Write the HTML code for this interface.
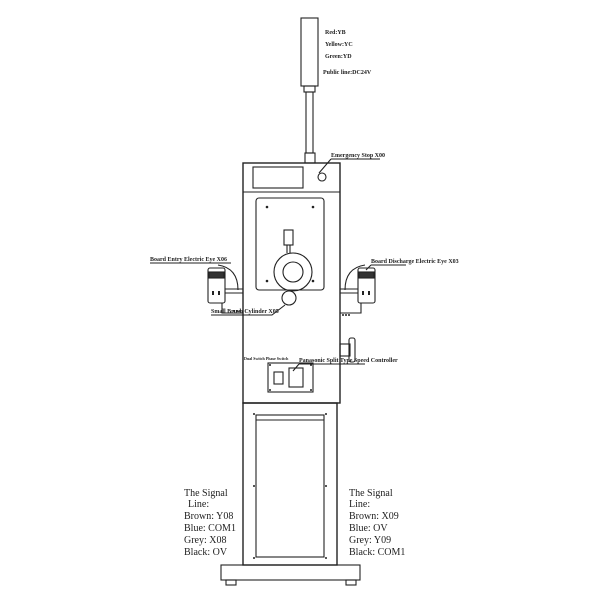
<!DOCTYPE html>
<html><head><style>
body{margin:0;background:#fff}
svg{display:block}
text{font-family:"Liberation Serif",serif;fill:#222}
</style></head><body>
<svg width="600" height="600" viewBox="0 0 600 600" fill="none" stroke="#222" stroke-width="1.1">
<rect x="301" y="18" width="17" height="68"/>
<rect x="304" y="86" width="11" height="6"/>
<rect x="306" y="92" width="7" height="61"/>
<rect x="305" y="153" width="10" height="10"/>
<g stroke="none" font-size="6" font-weight="bold">
<text x="325" y="34">Red:YB</text>
<text x="325" y="46">Yellow:YC</text>
<text x="325" y="58">Green:YD</text>
<text x="323" y="74">Public line:DC24V</text>
<text x="331" y="157">Emergency Stop X00</text>
<text x="150" y="261">Board Entry Electric Eye X06</text>
<text x="371" y="263">Board Discharge Electric Eye X03</text>
<text x="211" y="313">Small Brush Cylinder X05</text>
<text x="244" y="360" font-size="4">Dual Switch Phase Switch</text>
<text x="299" y="362">Panasonic Split Type Speed Controller</text>
</g>
<path d="M331 159H380 M331 159L319 173"/>
<path d="M150 263H231 M371 265H406 M371 265L366 270"/>
<path d="M211 315H272 L285 305"/>
<path d="M299 364H365 M299 364L293 371"/>
<rect x="243" y="163" width="97" height="240" stroke-width="1.4"/>
<rect x="253" y="167" width="50" height="21"/>
<line x1="243" y1="192" x2="340" y2="192"/>
<circle cx="322" cy="177" r="4"/>
<rect x="256" y="198" width="68" height="92" rx="3"/>
<g fill="#222" stroke="none">
<circle cx="267" cy="207" r="1.3"/><circle cx="313" cy="207" r="1.3"/>
<circle cx="267" cy="281" r="1.3"/><circle cx="313" cy="281" r="1.3"/>
</g>
<rect x="284" y="230" width="9" height="15"/>
<line x1="287" y1="245" x2="287" y2="253"/><line x1="290" y1="245" x2="290" y2="253"/>
<circle cx="293" cy="272" r="19"/>
<circle cx="293" cy="272" r="10"/>
<circle cx="289" cy="298" r="7"/>
<rect x="208" y="268" width="17" height="35" rx="2"/>
<rect x="209" y="272" width="15" height="6" fill="#333"/>
<path d="M218 265 Q238 268 238 290"/>
<path d="M225 289H243 M225 293H243 M222 303V313H243"/>
<g fill="#222" stroke="none"><rect x="212" y="291" width="2" height="4"/><rect x="218" y="291" width="2" height="4"/>
<circle cx="234" cy="311" r="1"/><circle cx="237" cy="311" r="1"/><circle cx="240" cy="311" r="1"/></g>
<rect x="358" y="268" width="17" height="35" rx="2"/>
<rect x="359" y="272" width="15" height="6" fill="#333"/>
<path d="M365 265 Q345 268 345 290"/>
<path d="M340 289H358 M340 293H358 M361 303V313H340"/>
<g fill="#222" stroke="none"><rect x="362" y="291" width="2" height="4"/><rect x="368" y="291" width="2" height="4"/>
<circle cx="343" cy="315" r="1"/><circle cx="346" cy="315" r="1"/><circle cx="349" cy="315" r="1"/></g>
<rect x="340" y="344" width="10" height="12"/>
<rect x="349" y="338" width="6" height="24" rx="2"/>
<rect x="268" y="363" width="45" height="29"/>
<rect x="274" y="372" width="9" height="12"/>
<rect x="289" y="368" width="14" height="19"/>
<g fill="#222" stroke="none"><circle cx="270" cy="365" r="1"/><circle cx="311" cy="365" r="1"/><circle cx="270" cy="390" r="1"/><circle cx="311" cy="390" r="1"/></g>
<rect x="243" y="403" width="94" height="162" stroke-width="1.4"/>
<rect x="256" y="415" width="68" height="142"/>
<line x1="256" y1="420" x2="324" y2="420"/>
<g fill="#222" stroke="none"><circle cx="254" cy="414" r="1"/><circle cx="326" cy="414" r="1"/><circle cx="254" cy="486" r="1"/><circle cx="326" cy="486" r="1"/><circle cx="254" cy="558" r="1"/><circle cx="326" cy="558" r="1"/></g>
<rect x="221" y="565" width="139" height="15"/>
<rect x="226" y="580" width="10" height="5"/>
<rect x="346" y="580" width="10" height="5"/>
<g stroke="none" font-size="10">
<text x="184" y="496">The Signal</text>
<text x="188" y="507">Line:</text>
<text x="184" y="519">Brown: Y08</text>
<text x="184" y="531">Blue: COM1</text>
<text x="184" y="543">Grey: X08</text>
<text x="184" y="555">Black: OV</text>
<text x="349" y="496">The Signal</text>
<text x="349" y="507">Line:</text>
<text x="349" y="519">Brown: X09</text>
<text x="349" y="531">Blue: OV</text>
<text x="349" y="543">Grey: Y09</text>
<text x="349" y="555">Black: COM1</text>
</g>
</svg>
</body></html>
